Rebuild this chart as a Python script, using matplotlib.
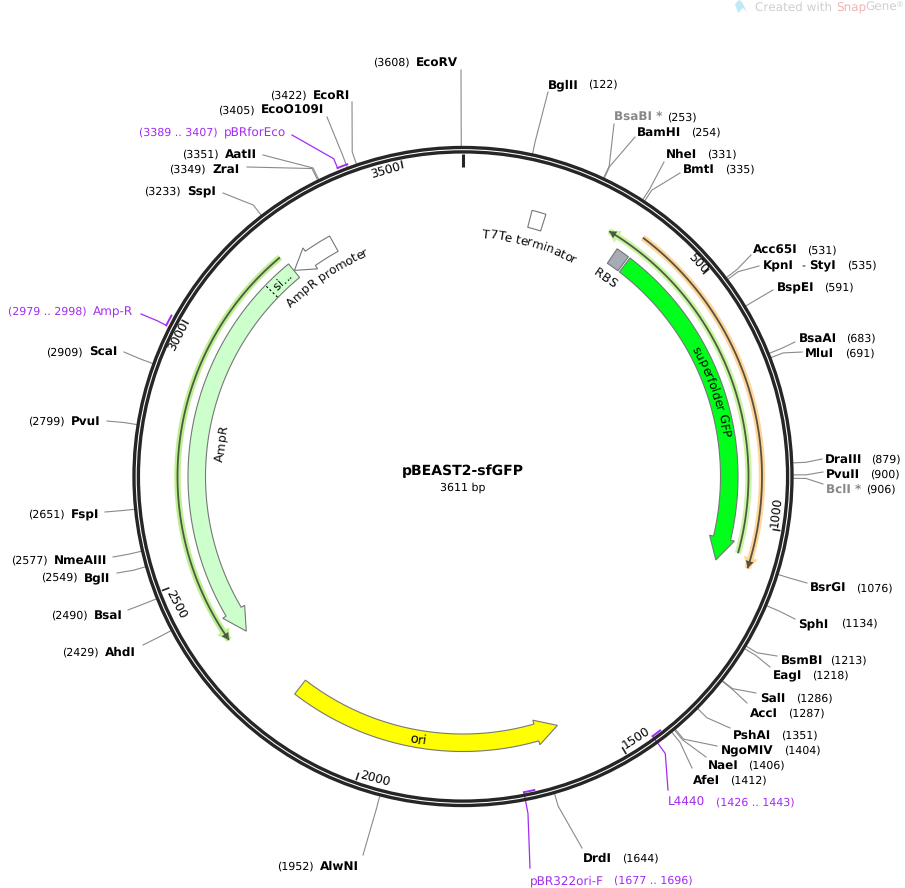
import numpy as np
import matplotlib
matplotlib.use('Agg')
import matplotlib.pyplot as plt
from matplotlib.patches import Circle, Polygon
from matplotlib.textpath import TextPath
from matplotlib.font_manager import FontProperties

plt.rcParams['text.hinting'] = 'no_hinting'
plt.rcParams['text.hinting_factor'] = 1

PLASMID = 'pBEAST2-sfGFP'
TOTAL_BP = 3611

# restriction sites
site_names = ['BglII', 'BsaBI *', 'BamHI', 'NheI', 'BmtI', 'Acc65I', 'KpnI', 'BspEI', 'BsaAI', 'MluI',
              'DraIII', 'PvuII', 'BclI *', 'BsrGI', 'SphI', 'BsmBI', 'EagI', 'SalI', 'AccI', 'PshAI',
              'NgoMIV', 'NaeI', 'AfeI', 'DrdI', 'AlwNI', 'AhdI', 'BsaI', 'BglI', 'NmeAIII', 'FspI',
              'PvuI', 'ScaI', 'SspI', 'ZraI', 'AatII', 'EcoO109I', 'EcoRI', 'EcoRV']
site_bp = [122, 253, 254, 331, 335, 531, 535, 591, 683, 691,
           879, 900, 906, 1076, 1134, 1213, 1218, 1286, 1287, 1351,
           1404, 1406, 1412, 1644, 1952, 2429, 2490, 2549, 2577, 2651,
           2799, 2909, 3233, 3349, 3351, 3405, 3422, 3608]
dimmed_sites = ['BsaBI *', 'BclI *']

# primers: name, start, end
primer_names = ['pBRforEco', 'Amp-R', 'L4440', 'pBR322ori-F']
primer_start = [3389, 2979, 1426, 1677]
primer_end = [3407, 2998, 1443, 1696]
primer_anchor = [3389, 2979, 1443, 1696]

tick_bp = [500, 1000, 1500, 2000, 2500, 3000, 3500]

# pixel layout of the labels: name x, position x, text y, leader end x, leader end y
site_layout = {
    'BglII': (548, 588, 84, 548, 92), 'BsaBI *': (614, 667, 117, 614, 124), 'BamHI': (637, 691, 132, 635, 137),
    'NheI': (666, 707, 154, 664, 162), 'BmtI': (683, 725, 169, 680, 173), 'Acc65I': (753, 807, 250, 751, 255),
    'KpnI': (763, 847, 265, 759, 266), 'BspEI': (777, 824, 287, 773, 290), 'BsaAI': (799, 846, 338, 795, 342),
    'MluI': (805, 845, 353, 802, 352), 'DraIII': (825, 871, 459, 822, 459), 'PvuII': (826, 870, 474, 823, 472),
    'BclI *': (826, 866, 489, 823, 484), 'BsrGI': (810, 856, 588, 807, 583), 'SphI': (798, 841, 623, 795, 619),
    'BsmBI': (781, 830, 660, 777, 656), 'EagI': (773, 812, 675, 770, 667), 'SalI': (760, 796, 698, 756, 693),
    'AccI': (750, 788, 713, 747, 703), 'PshAI': (733, 781, 735, 730, 728), 'NgoMIV': (721, 784, 750, 717, 746),
    'NaeI': (708, 748, 765, 706, 757), 'AfeI': (693, 730, 780, 692, 768), 'DrdI': (583, 622, 858, 582, 848),
    'AlwNI': (320, 277, 866, 363, 855), 'AhdI': (105, 62, 652, 143, 645), 'BsaI': (94, 51, 615, 128, 610),
    'BglI': (84, 41, 577, 117, 573), 'NmeAIII': (54, 11, 560, 113, 557), 'FspI': (71, 28, 514, 105, 512),
    'PvuI': (71, 28, 421, 107, 421), 'ScaI': (89, 46, 352, 124, 352), 'SspI': (187, 144, 191, 223, 193),
    'ZraI': (212, 169, 169, 247, 167), 'AatII': (225, 182, 154, 263, 155), 'EcoO109I': (261, 218, 110, 327, 117),
    'EcoRI': (313, 270, 95, 352, 102), 'EcoRV': (416, 373, 62, 461, 70),
}
primer_layout = {
    'pBRforEco': (224, 139, 132, 292, 135), 'Amp-R': (93, 8, 311, 141, 314),
    'L4440': (668, 716, 802, 668, 790), 'pBR322ori-F': (530, 614, 880, 530, 868),
}
tick_layout = [(697, 264, -47), (777, 512, 83), (637, 739, 33), (375, 780, -15),
               (175, 605, -62), (179, 337, 63), (386, 171, 16)]

CX, CY = 463.0, 476.5
PURPLE = '#a32cf2'
EDGE = '#777777'
LEADER = '#8a8a8a'


def polar(bp, r):
    a = 2 * np.pi * np.asarray(bp, dtype=float) / TOTAL_BP
    return CX + r * np.sin(a), CY - r * np.cos(a)


def arc(b0, b1, r):
    bps = np.linspace(b0, b1, 80)
    x, y = polar(bps, r)
    return np.column_stack([x, y])


def feature(ax, start, end, color, head=0, r0=257.5, r1=275, wing=4, lw=0.8, z=3, ec=EDGE):
    """block arc from start to end bp, with a head ending at end when head > 0"""
    sign = 1 if end > start else -1
    base = end - sign * head
    pts = [arc(start, base, r1)]
    if head:
        pts.append(np.array([polar(base, r1 + wing), polar(end, (r0 + r1) / 2.), polar(base, r0 - wing)]))
    pts.append(arc(base, start, r0))
    ax.add_patch(Polygon(np.vstack(pts), closed=True, fc=color, ec=ec, lw=lw, zorder=z, joinstyle='miter'))


def thin_arrow(ax, start, end, r, halo, core, head_at=None):
    p = arc(start, end, r)
    ax.plot(p[:, 0], p[:, 1], color=halo, lw=4.6, zorder=2, solid_capstyle='butt')
    ax.plot(p[:, 0], p[:, 1], color=core, lw=1.3, zorder=2.5, solid_capstyle='butt')
    if head_at == 'end':
        sign = 1 if end > start else -1
        feature(ax, end - sign * 24, end + sign * 3, halo, head=24, r0=r - 1, r1=r + 1, wing=6, lw=0, z=2)
        feature(ax, end - sign * 14, end, core, head=14, r0=r - 1, r1=r + 1, wing=3, lw=0, z=2.6)


def char_width(c, size, prop):
    return (TextPath((0, 0), 'x' + c + 'x', size=size, prop=prop).get_extents().width
            - TextPath((0, 0), 'xx', size=size, prop=prop).get_extents().width)


def arc_text(ax, s, mid_bp, r, size=8.8, clockwise=True):
    """lay out text along the circle, r is the baseline radius"""
    prop = FontProperties(family='DejaVu Sans')
    px = size * 100 / 72.
    widths = [char_width(c, px, prop) for c in s]
    sign = 1 if clockwise else -1
    mid = 2 * np.pi * mid_bp / TOTAL_BP
    pos = -sum(widths) / 2.
    for c, w in zip(s, widths):
        a = mid + sign * (pos + w / 2.) / r
        x, y = CX + r * np.sin(a), CY - r * np.cos(a)
        rot = -np.degrees(a) if clockwise else 180 - np.degrees(a)
        ax.text(x, y, c, fontsize=size, rotation=rot, rotation_mode='anchor',
                ha='center', va='baseline', zorder=6, color='black')
        pos += w


def main():
    fig = plt.figure(figsize=(9.05, 8.88), dpi=100)
    ax = fig.add_axes([0, 0, 1, 1])
    ax.set_xlim(0, 905)
    ax.set_ylim(888, 0)
    ax.axis('off')

    # backbone
    for r in (329, 324.6):
        ax.add_patch(Circle((CX, CY), r, fc='none', ec='#262626', lw=2.4, zorder=5))
    x0, y0 = polar(0, 322)
    x1, y1 = polar(0, 309)
    ax.plot([x0, x1], [y0, y1], color='#262626', lw=2.2, zorder=5, solid_capstyle='butt')

    # features
    feature(ax, 146, 176, 'white')
    feature(ax, 342, 371, '#a6abb5')
    feature(ax, 375, 1086, '#00ff1a', head=49)
    feature(ax, 3216, 2352, '#ccffcc', head=50)
    feature(ax, 3320, 3217, 'white', head=43)
    feature(ax, 2184, 1597, '#ffff00', head=48)
    xa, ya = polar(3150, 258)
    xb, yb = polar(3150, 274)
    ax.plot([xa, xb], [ya, yb], color='black', lw=0.8, ls=(0, (2, 2)), zorder=4)

    # thin annotations
    thin_arrow(ax, 1059, 309, 285.5, '#c9f5a0', '#4f5a45', head_at='end')
    thin_arrow(ax, 371, 1082, 299, '#ffd69a', '#5a5040', head_at='end')
    thin_arrow(ax, 3211, 2358, 285.5, '#bdf090', '#4f5a45', head_at='end')

    # feature names
    arc_text(ax, 'T7Te terminator', 160, 239.5)
    arc_text(ax, 'RBS', 356, 240.5)
    arc_text(ax, 'superfolder GFP', 715, 261.5)
    arc_text(ax, 'AmpR', 2786, 240.5)
    arc_text(ax, 'AmpR promoter', 3266, 240.5)
    arc_text(ax, 'si...', 3183, 262.5)
    arc_text(ax, 'ori', 1902, 271, size=9.5, clockwise=False)

    # coordinate ticks
    for bp, (tx, ty, rot) in zip(tick_bp, tick_layout):
        xa, ya = polar(bp, 322)
        xb, yb = polar(bp, 314)
        ax.plot([xa, xb], [ya, yb], color='#262626', lw=1.2, zorder=5, solid_capstyle='butt')
        ax.text(tx, ty, str(bp), fontsize=8.3, rotation=rot, rotation_mode='anchor',
                ha='center', va='center', zorder=6)

    # restriction sites
    for name, bp in zip(site_names, site_bp):
        nx, px, y, ex, ey = site_layout[name]
        xa, ya = polar(bp, 330)
        xb, yb = polar(bp, 343)
        ax.plot([xa, xb, ex], [ya, yb, ey], color=LEADER, lw=0.8, zorder=1)
        col = '#888888' if name in dimmed_sites else 'black'
        ax.text(nx, y + 4, name, fontsize=8.6, fontweight='bold', color=col, va='baseline')
        ax.text(px, y + 4, '(%d)' % bp, fontsize=7.8, color='black', va='baseline')
    ax.text(801, 269, '-', fontsize=7.8, va='baseline')
    ax.text(809, 269, 'StyI', fontsize=8.6, fontweight='bold', va='baseline')

    # primers, the two reverse ones sit inside the ring
    for name, s, e, anchor in zip(primer_names, primer_start, primer_end, primer_anchor):
        nx, px, y, ex, ey = primer_layout[name]
        r = 333 if s > 2000 else 321.5
        p = arc(s, e, r)
        ax.plot(p[:, 0], p[:, 1], color=PURPLE, lw=1.4, zorder=4)
        xa, ya = polar(anchor, r)
        xb, yb = polar(anchor, 343)
        ax.plot([xa, xb, ex], [ya, yb, ey], color=PURPLE, lw=0.9, zorder=1)
        ax.text(nx, y + 4, name, fontsize=8.5, color=PURPLE, va='baseline')
        ax.text(px, y + 4, '(%d .. %d)' % (s, e), fontsize=7.8, color=PURPLE, va='baseline')

    # centre title
    ax.text(CX, 471.5, PLASMID, fontsize=10, fontweight='bold', ha='center', va='center')
    ax.text(CX, 487.5, '%d bp' % TOTAL_BP, fontsize=8, ha='center', va='center')

    # watermark
    ax.add_patch(Polygon([(739, 0), (742, 2), (747, 12), (743, 8), (738, 13), (735, 4)], closed=True,
                         fc='#bfe9f5', ec='none'))
    ax.text(755, 11, 'Created with', fontsize=8.7, color='#cfcfcf', va='baseline')
    ax.text(836, 11, 'Snap', fontsize=8.7, color='#eeb4b0', va='baseline')
    ax.text(865, 11, 'Gene', fontsize=8.7, color='#cfcfcf', va='baseline')
    ax.text(896, 7, '\u00ae', fontsize=6, color='#cfcfcf', va='baseline')

    fig.savefig('out.png', dpi=100)


if __name__ == '__main__':
    main()
